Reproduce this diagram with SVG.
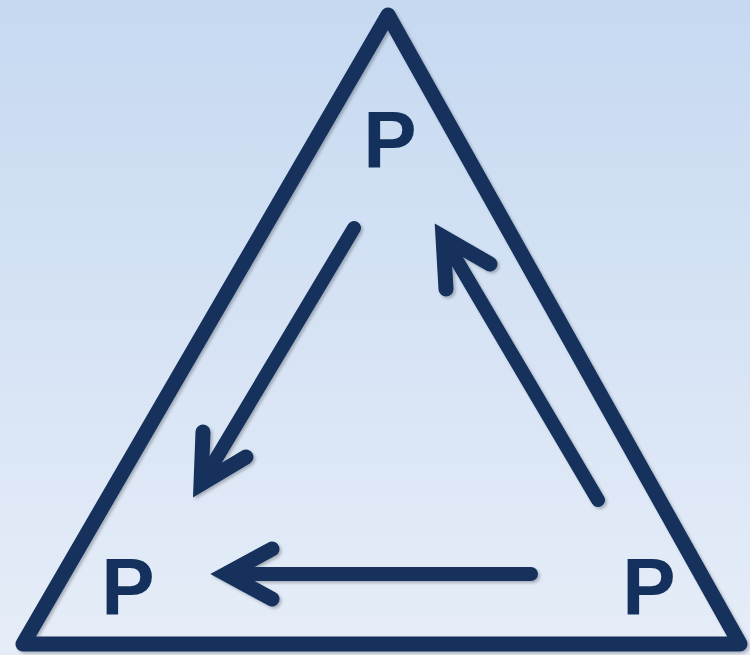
<svg xmlns="http://www.w3.org/2000/svg" width="750" height="655" viewBox="0 0 750 655">
<defs>
<linearGradient id="bg" x1="0" y1="0" x2="0" y2="1">
<stop offset="0" stop-color="#c6d9f1"/>
<stop offset="1" stop-color="#e6edf8"/>
</linearGradient>
<filter id="sh" x="-10%" y="-10%" width="120%" height="120%">
<feDropShadow dx="2" dy="2" stdDeviation="1.5" flood-color="#000" flood-opacity="0.25"/>
</filter>
<style>
.ln{fill:none;stroke:#13315c;stroke-linecap:round}
.tri{stroke-width:15;stroke-linejoin:round}
.shaft{stroke-width:14}
.head{stroke-width:15;stroke-linejoin:miter;stroke-miterlimit:10}
.lbl{font-family:"Liberation Sans",Arial,sans-serif;font-weight:bold;font-size:80px;fill:#13315c;text-anchor:middle}
</style>
</defs>
<rect width="750" height="655" fill="url(#bg)"/>
<g id="triangle" filter="url(#sh)">
<polygon class="ln tri" points="388,15 23,644 740,644"/>
</g>
<g id="connectors" filter="url(#sh)">
<g id="arrow-top-left">
<line class="ln shaft" x1="354" y1="228" x2="201" y2="484"/>
<polyline class="ln head" points="203,432 201,484 246,457"/>
</g>
<g id="arrow-right-top">
<line class="ln shaft" x1="598" y1="500" x2="443" y2="237"/>
<polyline class="ln head" points="446,289 443,237 490,264"/>
</g>
<g id="arrow-right-left">
<line class="ln shaft" x1="531" y1="574" x2="226" y2="574"/>
<polyline class="ln head" points="272,549 226,574 272,599"/>
</g>
</g>
<g id="node-top"><text class="lbl" x="390" y="167">P</text></g>
<g id="node-left"><text class="lbl" x="128" y="614">P</text></g>
<g id="node-right"><text class="lbl" x="649" y="614">P</text></g>
</svg>
